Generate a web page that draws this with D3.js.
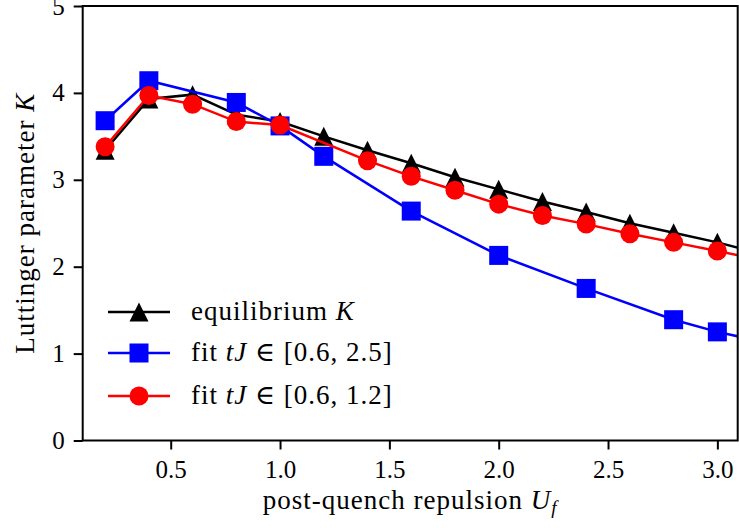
<!DOCTYPE html>
<html>
<head>
<meta charset="utf-8">
<script src="https://cdn.jsdelivr.net/npm/d3@7"></script>
<style>
  body { margin: 0; background: #fff; }
  svg text { font-family: "Liberation Serif", "DejaVu Serif", serif; fill: #000; }
</style>
</head>
<body>
<div class="chart"></div>
<script>
// values
const uEq = [0.2, 0.4, 0.6, 0.8, 1.0, 1.2, 1.4, 1.6, 1.8, 2.0, 2.2, 2.4, 2.6, 2.8, 3.0, 3.2];
const kEq = [3.34, 3.93, 3.98, 3.75, 3.67, 3.50, 3.34, 3.19, 3.03, 2.89, 2.75, 2.63, 2.50, 2.39, 2.28, 2.15];

const uLong = [0.2, 0.4, 0.8, 1.0, 1.2, 1.6, 2.0, 2.4, 2.8, 3.0, 3.2];
const kLong = [3.68, 4.14, 3.89, 3.62, 3.27, 2.64, 2.13, 1.75, 1.39, 1.25, 1.14];

const uShort = [0.2, 0.4, 0.6, 0.8, 1.0, 1.4, 1.6, 1.8, 2.0, 2.2, 2.4, 2.6, 2.8, 3.0, 3.2];
const kShort = [3.38, 3.97, 3.87, 3.67, 3.63, 3.22, 3.04, 2.88, 2.72, 2.59, 2.49, 2.38, 2.28, 2.18, 2.08];

const xTicks = [0.5, 1.0, 1.5, 2.0, 2.5, 3.0];
const yTicks = [0, 1, 2, 3, 4, 5];

const width = 739, height = 530;
const margin = { top: 6, right: 1.3, bottom: 89.5, left: 82.7 };
const tickFont = 25;
const labelFont = 27;
const spacing = '1px';

const svg = d3.select('.chart').append('svg')
    .attr('width', width)
    .attr('height', height);

const x = d3.scaleLinear().domain([0.0975, 3.093]).range([margin.left, width - margin.right]);
const y = d3.scaleLinear().domain([0, 5]).range([height - margin.bottom, margin.top]);

svg.append('clipPath').attr('id', 'plotclip')
    .append('rect')
    .attr('x', margin.left).attr('y', margin.top)
    .attr('width', width - margin.right - margin.left)
    .attr('height', height - margin.bottom - margin.top);

const series = [
    { u: uEq, k: kEq, color: '#000000', marker: 'triangle' },
    { u: uLong, k: kLong, color: '#0000ff', marker: 'square' },
    { u: uShort, k: kShort, color: '#ff0000', marker: 'circle' }
];

const msize = 19;
function marker(g, type, cx, cy, color) {
    if (type === 'triangle') {
        g.append('path')
            .attr('d', `M${cx},${cy - msize / 2}L${cx - msize / 2},${cy + msize / 2}L${cx + msize / 2},${cy + msize / 2}Z`)
            .attr('fill', color);
    } else if (type === 'square') {
        g.append('rect')
            .attr('x', cx - msize / 2).attr('y', cy - msize / 2)
            .attr('width', msize).attr('height', msize)
            .attr('fill', color);
    } else {
        g.append('circle').attr('cx', cx).attr('cy', cy).attr('r', msize / 2).attr('fill', color);
    }
}

const plot = svg.append('g').attr('clip-path', 'url(#plotclip)');
const line = d3.line().x(d => x(d[0])).y(d => y(d[1]));

series.forEach(function(s) {
    const pts = s.u.map((u, i) => [u, s.k[i]]);
    plot.append('path')
        .datum(pts)
        .attr('fill', 'none')
        .attr('stroke', s.color)
        .attr('stroke-width', 2.5)
        .attr('d', line);
    const mg = plot.append('g');
    pts.forEach(p => marker(mg, s.marker, x(p[0]), y(p[1]), s.color));
});

// frame
svg.append('rect')
    .attr('x', margin.left).attr('y', margin.top)
    .attr('width', width - margin.right - margin.left)
    .attr('height', height - margin.bottom - margin.top)
    .attr('fill', 'none').attr('stroke', '#000').attr('stroke-width', 2);

// axes
const xAxis = d3.axisBottom(x).tickValues(xTicks).tickFormat(d3.format('.1f'))
    .tickSize(9).tickPadding(11);
const gx = svg.append('g')
    .attr('transform', `translate(0,${height - margin.bottom})`)
    .call(xAxis);
gx.select('.domain').remove();
gx.selectAll('line').attr('stroke-width', 2);
gx.selectAll('text').attr('font-size', tickFont).attr('font-family', null);

const yAxis = d3.axisLeft(y).tickValues(yTicks).tickFormat(d3.format('d'))
    .tickSize(9).tickPadding(9);
const gy = svg.append('g')
    .attr('transform', `translate(${margin.left},0)`)
    .call(yAxis);
gy.select('.domain').remove();
gy.selectAll('line').attr('stroke-width', 2);
gy.selectAll('text').attr('font-size', tickFont).attr('font-family', null);

// axis labels
const xl = svg.append('text')
    .attr('x', (margin.left + width - margin.right) / 2)
    .attr('y', 509)
    .attr('text-anchor', 'middle')
    .attr('font-size', labelFont)
    .style('letter-spacing', spacing);
xl.append('tspan').text('post-quench repulsion ');
xl.append('tspan').attr('font-style', 'italic').text('U');
xl.append('tspan').attr('font-style', 'italic').attr('font-size', 19).attr('dy', 5).text('f');

const yl = svg.append('text')
    .attr('transform', `translate(34,${(margin.top + height - margin.bottom) / 2}) rotate(-90)`)
    .attr('text-anchor', 'middle')
    .attr('font-size', labelFont)
    .style('letter-spacing', spacing);
yl.append('tspan').text('Luttinger parameter ');
yl.append('tspan').attr('font-style', 'italic').text('K');

// legend
const legendRows = [
    { s: series[0], y: 312, parts: [['equilibrium ', false], ['K', true]] },
    { s: series[1], y: 353, parts: [['fit ', false], ['tJ', true], [' \u2208 [0.6, 2.5]', false]] },
    { s: series[2], y: 396, parts: [['fit ', false], ['tJ', true], [' \u2208 [0.6, 1.2]', false]] }
];
const lg = svg.append('g');
legendRows.forEach(function(r) {
    lg.append('line')
        .attr('x1', 108).attr('x2', 170)
        .attr('y1', r.y).attr('y2', r.y)
        .attr('stroke', r.s.color).attr('stroke-width', 2.5);
    marker(lg, r.s.marker, 139, r.y, r.s.color);
    const t = lg.append('text')
        .attr('x', 191).attr('y', r.y + 8)
        .attr('font-size', labelFont)
        .style('letter-spacing', spacing);
    r.parts.forEach(p => t.append('tspan').attr('font-style', p[1] ? 'italic' : null).text(p[0]));
});
</script>
</body>
</html>
